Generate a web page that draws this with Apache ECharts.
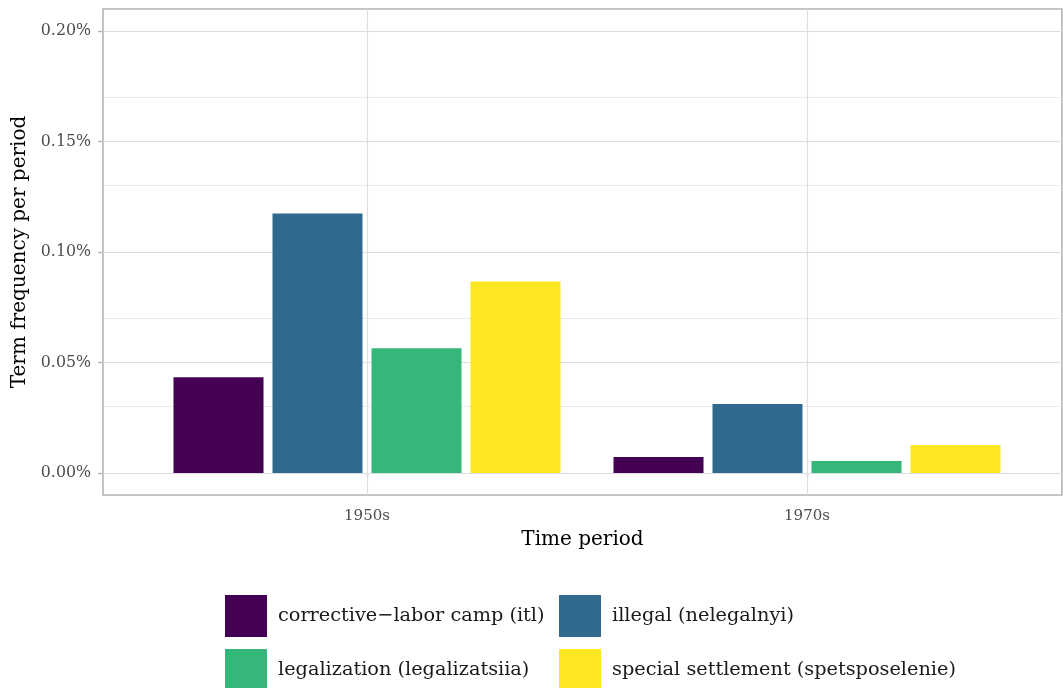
<!DOCTYPE html>
<html>
<head>
<meta charset="utf-8">
<script src="https://cdn.jsdelivr.net/npm/echarts@6/dist/echarts.min.js"></script>
<style>html,body{margin:0;padding:0;background:#fff}#c{width:1063px;height:688px}</style>
</head>
<body>
<div id="c"></div>
<script>
const periods = ['1950s', '1970s'];
const terms = ['corrective\u2212labor camp (itl)', 'illegal (nelegalnyi)', 'legalization (legalizatsiia)', 'special settlement (spetsposelenie)'];
const colors = ['#440154', '#31688E', '#35B779', '#FDE725'];
const itlValues = [0.0433, 0.0072];
const illegalValues = [0.1174, 0.0312];
const legalizationValues = [0.0564, 0.0054];
const specialValues = [0.0867, 0.0126];
const seriesValues = [itlValues, illegalValues, legalizationValues, specialValues];
const yMajorTicks = [0, 0.05, 0.10, 0.15, 0.20];
const yMinorTicks = [0.025, 0.075, 0.125, 0.175];

const FONT = 'DejaVu Serif';
const chart = echarts.init(document.getElementById('c'));

const bars = seriesValues.map((vals, i) => ({
  name: terms[i],
  type: 'bar',
  xAxisIndex: 1, yAxisIndex: 1,
  data: vals,
  barWidth: 90,
  barGap: '10%',
  itemStyle: { color: colors[i] },
  z: 5,
  silent: true
}));

const legendPos = [[225, 595], [559, 595], [225, 649], [559, 649]];
const legends = terms.map((t, i) => ({
  data: [t], left: legendPos[i][0], top: legendPos[i][1], padding: 0,
  itemWidth: 42, itemHeight: 42, icon: 'rect', selectedMode: false,
  textStyle: { fontFamily: FONT, fontSize: 19.3, color: '#1a1a1a', padding: [0, 0, 0, 6] }
}));

chart.setOption({
  animation: false,
  backgroundColor: '#fff',
  legend: legends,
  grid: [
    { left: 103, right: 1, top: 9, bottom: 193, show: true, borderColor: '#b3b3b3', borderWidth: 1.6, backgroundColor: 'transparent' },
    { left: 147, right: 36, top: 9, bottom: 193 }
  ],
  xAxis: [
    { gridIndex: 0, type: 'value', min: 0.4, max: 2.6,
      name: 'Time period', nameLocation: 'middle', nameGap: 35,
      nameTextStyle: { fontFamily: FONT, fontSize: 20, color: '#000' },
      axisLine: { show: false }, axisTick: { show: false }, axisLabel: { show: false }, splitLine: { show: false } },
    { gridIndex: 1, type: 'category', data: periods,
      axisLine: { show: false },
      axisTick: { show: true, alignWithLabel: true, length: 4, lineStyle: { color: '#b3b3b3', width: 1.4 } },
      axisLabel: { fontFamily: FONT, fontSize: 15, color: '#4d4d4d', margin: 14 },
      splitLine: { show: false } }
  ],
  yAxis: [
    { gridIndex: 0, type: 'value', min: -0.01, max: 0.21,
      name: 'Term frequency per period', nameLocation: 'middle', nameGap: 73,
      nameTextStyle: { fontFamily: FONT, fontSize: 20, color: '#000' },
      axisLine: { show: false },
      axisTick: { show: true, length: 5, customValues: yMajorTicks, lineStyle: { color: '#b3b3b3', width: 1.4 } },
      axisLabel: { customValues: yMajorTicks, fontFamily: FONT, fontSize: 15.8, color: '#4d4d4d', margin: 12,
        formatter: v => v.toFixed(2) + '%' },
      splitLine: { show: false } },
    { gridIndex: 1, type: 'value', min: -0.01, max: 0.21, show: false, splitLine: { show: false } }
  ],
  series: [
    { type: 'line', xAxisIndex: 0, yAxisIndex: 0, data: [], z: 1, silent: true,
      markLine: {
        z: 1, silent: true, symbol: 'none', label: { show: false }, animation: false,
        data: yMajorTicks.map(v => ({ yAxis: v, lineStyle: { color: '#dedede', width: 1.2, type: 'solid' } }))
          .concat(yMinorTicks.map(v => ({ yAxis: v, lineStyle: { color: '#e6e6e6', width: 0.8, type: 'solid' } })))
      } },
    { type: 'line', xAxisIndex: 1, yAxisIndex: 1, data: [], z: 1, silent: true,
      markLine: {
        z: 1, silent: true, symbol: 'none', label: { show: false }, animation: false,
        lineStyle: { color: '#dedede', width: 1.2, type: 'solid' },
        data: periods.map(p => ({ xAxis: p }))
      } }
  ].concat(bars)
});
</script>
</body>
</html>
